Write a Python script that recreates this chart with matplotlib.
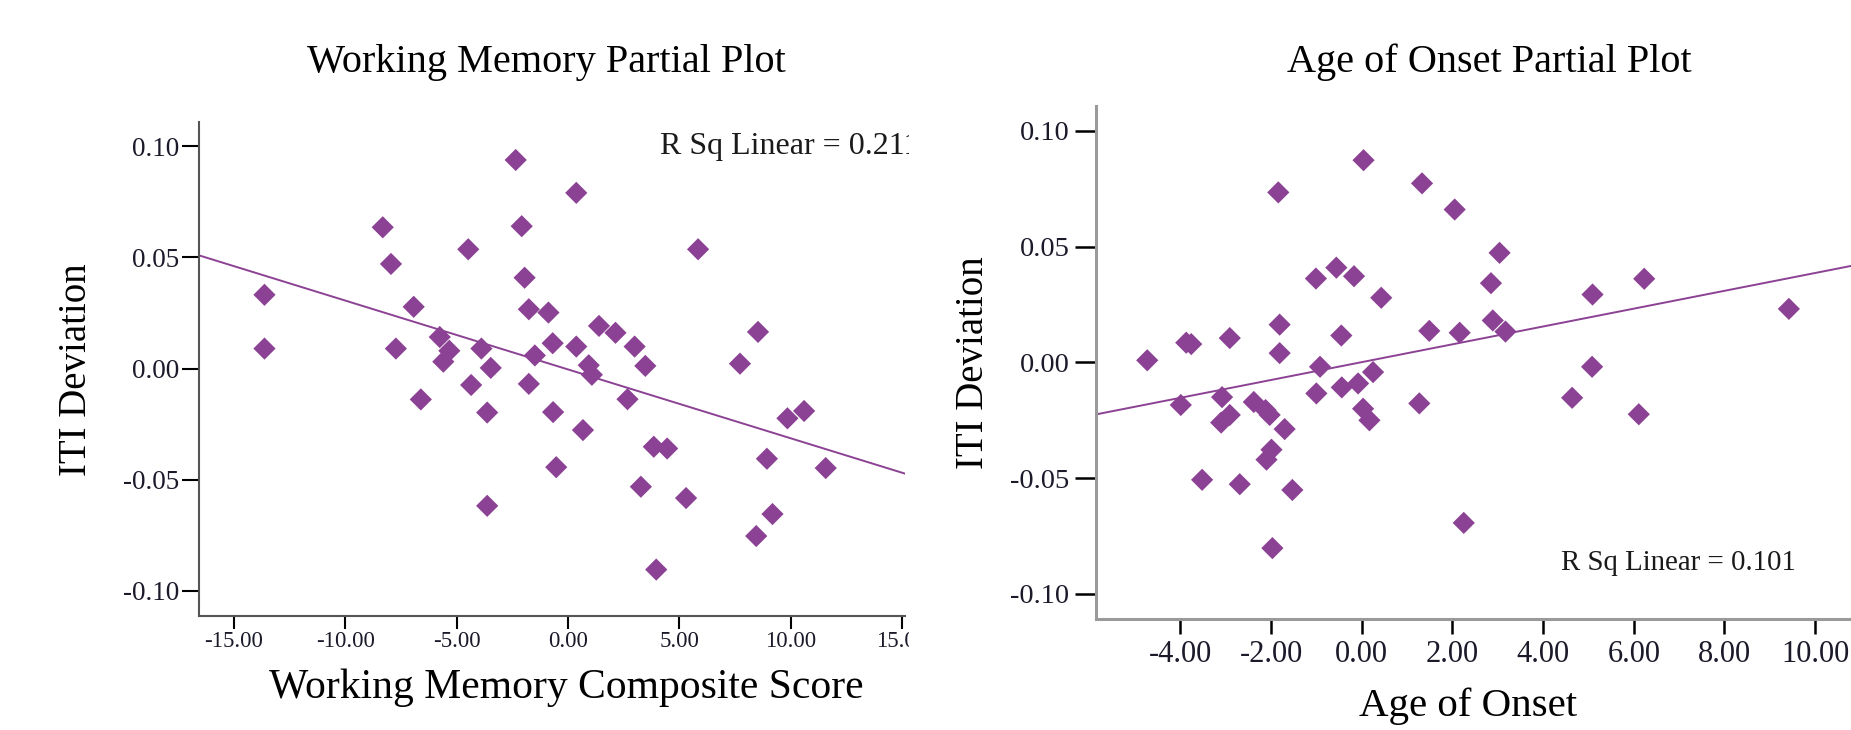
import matplotlib
matplotlib.use("Agg")
import matplotlib.pyplot as plt
import numpy as np
from matplotlib.transforms import Bbox, TransformedBbox

plt.rcParams['font.family'] = ['Liberation Serif', 'DejaVu Serif']

# ---------------- data ----------------
wm_x = [-13.63, -13.63, -8.32, -7.95, -7.73, -6.93, -6.61, -4.48, -5.76, -5.33,
        -5.60, -3.89, -3.47, -4.35, -3.63, -3.63, -2.35, -2.08, -1.95, -1.76,
        -0.88, -1.49, -1.76, -0.69, -0.67, -0.53, 0.37, 0.37, 0.67, 0.93,
        1.07, 1.39, 2.13, 2.67, 2.99, 3.47, 3.27, 3.85, 4.45, 3.96,
        5.30, 5.84, 7.72, 8.53, 8.93, 8.45, 9.18, 9.85, 10.60, 11.57]
wm_y = [0.0332, 0.0090, 0.0636, 0.0471, 0.0090, 0.0278, -0.0139, 0.0537, 0.0142, 0.0080,
        0.0031, 0.0090, 0.0003, -0.0074, -0.0198, -0.0618, 0.0939, 0.0641, 0.0409, 0.0267,
        0.0252, 0.0059, -0.0069, 0.0114, -0.0196, -0.0444, 0.0791, 0.0099, -0.0277, 0.0015,
        -0.0028, 0.0192, 0.0161, -0.0138, 0.0099, 0.0012, -0.0532, -0.0352, -0.0360, -0.0905,
        -0.0583, 0.0537, 0.0022, 0.0165, -0.0406, -0.0754, -0.0655, -0.0224, -0.0191, -0.0448]

ao_x = [-4.73, -3.87, -3.76, -3.99, -2.91, -3.08, -2.91, -3.10, -3.52, -2.69,
        -2.38, -2.12, -2.03, -1.70, -1.99, -2.10, -1.53, -1.97, -1.84, -1.81,
        -1.81, -1.01, -0.56, -0.17, 0.43, -0.45, -0.92, -1.00, -0.44, -0.08,
        0.25, 0.03, 0.17, 0.04, 1.33, 2.05, 1.49, 2.16, 1.27, 2.25,
        3.04, 2.85, 2.89, 3.17, 5.09, 5.08, 4.64, 6.23, 6.11, 9.42]
ao_y = [0.0009, 0.0085, 0.0079, -0.0184, 0.0105, -0.0150, -0.0227, -0.0260, -0.0507, -0.0526,
        -0.0171, -0.0206, -0.0227, -0.0288, -0.0377, -0.0420, -0.0551, -0.0802, 0.0734, 0.0163,
        0.0040, 0.0362, 0.0409, 0.0372, 0.0279, 0.0116, -0.0019, -0.0134, -0.0108, -0.0091,
        -0.0042, -0.0200, -0.0250, 0.0873, 0.0773, 0.0660, 0.0136, 0.0128, -0.0177, -0.0693,
        0.0473, 0.0342, 0.0181, 0.0133, 0.0293, -0.0019, -0.0153, 0.0361, -0.0224, 0.0231]

wm_slope, wm_intercept = -0.00310, -0.0004
ao_slope, ao_intercept = 0.00385, 0.0001

wm_rsq = "R Sq Linear = 0.211"
ao_rsq = "R Sq Linear = 0.101"

wm_xticks = [-15, -10, -5, 0, 5, 10, 15]
ao_xticks = [-4, -2, 0, 2, 4, 6, 8, 10]
yticks = [-0.10, -0.05, 0.00, 0.05, 0.10]

# ---------------- style ----------------
W, H = 1851, 730
purple = '#8C4294'
fig = plt.figure(figsize=(W / 100, H / 100), dpi=100)

def px_rect(l, t, r, b):
    return [l / W, 1 - b / H, (r - l) / W, (b - t) / H]

ax1 = fig.add_axes(px_rect(199, 122, 905, 616))
ax2 = fig.add_axes(px_rect(1096, 106, 1851, 619))

for ax, spc, slw in ((ax1, '#555555', 1.5), (ax2, '#9a9a9a', 2.2)):
    for s in ('top', 'right'):
        ax.spines[s].set_visible(False)
    for s in ('left', 'bottom'):
        ax.spines[s].set_color(spc)
        ax.spines[s].set_linewidth(slw)

clipbox = TransformedBbox(Bbox([[0, 0], [909 / W, 1]]), fig.transFigure)

# left panel
ax1.set_xlim(-16.57, 15.13)
ax1.set_ylim(-0.1114, 0.111)
ax1.scatter(wm_x, wm_y, marker='D', s=128, color=purple, edgecolors='none', zorder=3)
xl = np.array(ax1.get_xlim())
ax1.plot(xl, wm_slope * xl + wm_intercept, color=purple, lw=1.4, zorder=2)
ax1.set_xticks(wm_xticks)
ax1.set_xticklabels([f"{v:.2f}" for v in wm_xticks])
ax1.set_yticks(yticks)
ax1.set_yticklabels([f"{v:.2f}" for v in yticks])
ax1.tick_params(axis='x', length=9, width=1.5, color='black', labelsize=16.5, pad=1.5, labelcolor='#1a1a2a')
ax1.tick_params(axis='y', length=12, width=1.5, color='black', labelsize=19.5, pad=2.5, labelcolor='#1a1a2a')
t1 = ax1.text(4.15, 0.100, wm_rsq, fontsize=23, ha='left', va='center', color='#1a1a1a')
t1.set_clip_box(clipbox)
t1.set_clip_on(True)

for lab in ax1.get_xticklabels():
    lab.set_clip_box(clipbox)
    lab.set_clip_on(True)

# right panel
ax2.set_xlim(-5.86, 10.79)
ax2.set_ylim(-0.1108, 0.1107)
ax2.scatter(ao_x, ao_y, marker='D', s=128, color=purple, edgecolors='none', zorder=3)
xl2 = np.array(ax2.get_xlim())
ax2.plot(xl2, ao_slope * xl2 + ao_intercept, color=purple, lw=1.4, zorder=2)
ax2.set_xticks(ao_xticks)
ax2.set_xticklabels([f"{v:.2f}" for v in ao_xticks])
ax2.set_yticks(yticks)
ax2.set_yticklabels([f"{v:.2f}" for v in yticks])
ax2.tick_params(axis='x', length=11, width=1.8, color='black', labelsize=22, pad=4, labelcolor='#1a1a2a')
ax2.tick_params(axis='y', length=15, width=1.8, color='black', labelsize=20.5, pad=4, labelcolor='#1a1a2a')
ax2.text(4.40, -0.0867, ao_rsq, fontsize=20.8, ha='left', va='center', color='#1a1a1a')

# titles and axis labels
fig.text(546.6 / W, 1 - 72 / H, "Working Memory Partial Plot", fontsize=29, ha='center', va='baseline')
fig.text(1489 / W, 1 - 72 / H, "Age of Onset Partial Plot", fontsize=29, ha='center', va='baseline')
fig.text(566.6 / W, 1 - 698 / H, "Working Memory Composite Score", fontsize=30, ha='center', va='baseline')
fig.text(1468 / W, 1 - 716 / H, "Age of Onset", fontsize=29.5, ha='center', va='baseline')
fig.text(77 / W, 1 - 370 / H, "ITI Deviation", fontsize=28, rotation=90, ha='center', va='center')
fig.text(973 / W, 1 - 362.5 / H, "ITI Deviation", fontsize=28, rotation=90, ha='center', va='center')

fig.savefig("out.png", dpi=100, facecolor='white')
